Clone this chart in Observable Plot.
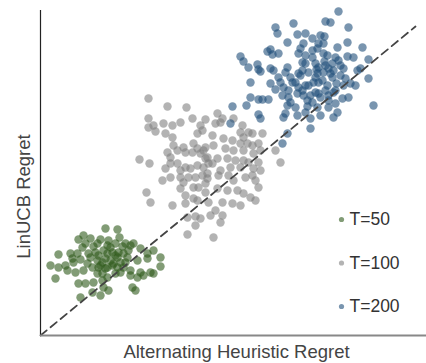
<!DOCTYPE html>
<html>
<head>
<meta charset="utf-8">
<script src="https://cdn.jsdelivr.net/npm/d3@7"></script>
<script src="https://cdn.jsdelivr.net/npm/@observablehq/plot@0.6"></script>
<style>
  html, body { margin: 0; padding: 0; background: #fff; }
  #chart { width: 426px; height: 363px; }
</style>
</head>
<body>
<div id="chart"></div>
<script>
// Values in arbitrary regret units
const seriesNames = ["T=50", "T=100", "T=200"];
const seriesColors = ["#2f5a1a", "#808080", "#1f4e79"];
const xLabel = "Alternating Heuristic Regret";
const yLabel = "LinUCB Regret";

const x50 = [65,77,43,79,38,50,60,68,85,93,90,30,18,42,53,70,82,100,107,113,10,18,25,33,40,50,58,67,77,87,97,107,120,15,27,35,43,58,65,72,83,90,100,110,113,38,45,53,62,67,90,97,103,63,68,92,95,40,52,60,57,62,65,70,73,77,80,60,67,55,63,72,75,47,52,48,37,32,57,62,80,75,85,88,78,83,45,57,67,75,120];
const y50 = [107,106,100,98,96,97,96,95,92,92,90,82,81,88,89,88,89,87,82,85,70,68,70,73,76,78,80,82,78,78,75,77,78,57,65,63,65,68,67,70,68,65,63,63,62,52,52,53,55,58,60,58,60,48,45,48,45,38,43,40,75,73,77,75,72,68,73,70,68,83,85,83,80,72,68,82,82,77,62,62,63,62,73,85,83,82,92,92,90,92,69];

const x100 = [108,127,146,108,152,165,108,113,115,123,125,132,140,160,157,162,132,99,109,127,130,133,137,143,145,153,152,157,160,165,167,125,130,137,140,145,150,157,163,168,122,130,140,143,148,155,162,167,140,153,158,165,106,110,132,145,145,153,157,147,155,160,155,147,
  177,180,175,193,202,200,212,222,203,172,183,192,200,207,212,218,173,163,185,193,203,213,220,235,165,177,172,187,195,203,208,218,180,190,200,213,220,240,167,178,188,193,205,212,218,165,177,187,197,203,210,215,168,182,192,200,175,170,182,173,182,208,215,180];
const y100 = [237,229,228,217,217,216,208,210,204,212,202,210,213,210,202,205,198,176,172,183,178,190,185,188,183,192,183,187,182,188,178,167,172,172,165,168,167,170,168,172,155,158,158,153,158,158,160,162,147,148,148,152,143,133,130,140,132,137,135,118,119,117,110,101,
  222,213,212,217,210,203,202,202,198,200,197,195,192,192,190,192,190,185,187,185,185,182,185,185,177,177,172,177,175,175,173,173,165,168,168,167,165,173,157,160,160,155,158,160,148,143,147,145,145,142,138,135,133,133,132,130,125,120,120,98,217,203,155,113];

const x200 = [253,235,237,257,265,247,263,260,227,230,238,232,200,203,208,217,218,220,258,265,262,265,230,233,247,245,210,230,238,240,252,255,260,262,268,235,243,248,258,265,210,218,222,228,242,248,250,257,263,267,192,206,247,255,267,245,243,257,265,218,220,190,247,242,
  298,285,290,308,280,284,272,278,283,307,322,272,277,283,287,297,295,298,307,313,328,275,278,285,288,293,303,317,320,277,283,292,300,305,328,273,278,287,295,303,310,315,275,278,293,302,308,272,288,277,288,297,293,280,270,270,333,
  268,275,282,290,296,285,280,270,288,295,262,276,284,292,300,272,258,250];
const y200 = [312,308,302,301,302,293,292,287,284,286,282,281,279,274,268,271,266,264,282,280,273,272,267,265,268,263,253,252,258,253,253,253,260,265,263,246,248,245,248,250,238,236,236,236,240,238,233,242,240,235,229,230,230,228,229,222,218,220,223,221,217,212,202,192,
  324,314,313,308,300,299,297,292,292,293,288,285,287,282,280,288,278,275,279,278,276,272,268,270,267,265,267,265,267,262,263,258,260,257,257,253,253,250,245,250,252,250,243,242,243,237,238,233,235,228,228,223,218,220,217,207,230,
  250,258,255,262,252,245,238,240,240,232,245,266,274,272,270,278,262,258];

// Identity reference line (equal regret)
const diagX = [0, 375];
const diagY = [0, 309];

const xs = [x50, x100, x200];
const ys = [y50, y100, y200];
const points = [];
seriesNames.forEach((name, s) => {
  xs[s].forEach((v, i) => points.push({series: name, x: v, y: ys[s][i]}));
});
const diag = diagX.map((v, i) => ({x: v, y: diagY[i]}));

const font = "Liberation Sans, Arial, sans-serif";

const legendMarks = seriesNames.flatMap((name, i) => [
  Plot.dot([name], {frameAnchor: "top-left", dx: 301, dy: 209 + i * 43.5, r: 2.6, fill: seriesColors[i], fillOpacity: 0.6, stroke: "none"}),
  Plot.text([name], {frameAnchor: "top-left", dx: 309, dy: 209 + i * 43.5, text: d => d, textAnchor: "start", lineAnchor: "middle", fontSize: 17.5, fill: "#333", fontFamily: font})
]);

const chart = Plot.plot({
  width: 426,
  height: 363,
  marginLeft: 40,
  marginRight: 0,
  marginTop: 10,
  marginBottom: 28,
  style: {fontFamily: font, background: "#fff"},
  x: {domain: [0, 386], axis: null},
  y: {domain: [0, 325], axis: null},
  color: {domain: seriesNames, range: seriesColors},
  marks: [
    Plot.dot(points, {x: "x", y: "y", r: 4.2, fill: "series", fillOpacity: 0.6, stroke: "none"}),
    Plot.line(diag, {x: "x", y: "y", stroke: "#444", strokeWidth: 1.8, strokeDasharray: "8,5"}),
    Plot.ruleX([0], {stroke: "#222", strokeWidth: 1.2}),
    Plot.ruleY([0], {stroke: "#888", strokeWidth: 2.2}),
    ...legendMarks
  ]
});
document.getElementById("chart").appendChild(chart);

// Axis titles
const svg = d3.select(chart);
svg.append("text")
  .attr("transform", "translate(236.5,357.5)")
  .attr("text-anchor", "middle")
  .attr("font-family", font)
  .attr("font-size", 18.5)
  .attr("fill", "#444")
  .text(xLabel);
svg.append("text")
  .attr("transform", "translate(29.5,196.5) rotate(-90)")
  .attr("text-anchor", "middle")
  .attr("font-family", font)
  .attr("font-size", 18.5)
  .attr("fill", "#444")
  .text(yLabel);
</script>
</body>
</html>
